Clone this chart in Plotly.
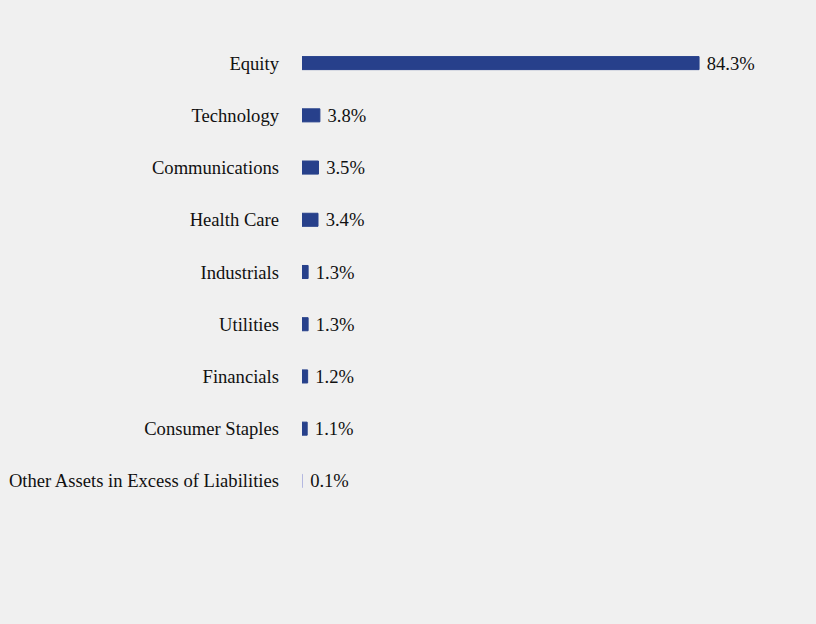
import plotly.graph_objects as go

categories = ["Equity", "Technology", "Communications", "Health Care", "Industrials",
              "Utilities", "Financials", "Consumer Staples", "Other Assets in Excess of Liabilities"]
values = [84.3, 3.8, 3.5, 3.4, 1.3, 1.3, 1.2, 1.1, 0.1]
labels = ["84.3%", "3.8%", "3.5%", "3.4%", "1.3%", "1.3%", "1.2%", "1.1%", "0.1%"]
colors = ["#27408b"] * 8 + ["#b3b8e0"]

FS = 18.6
fig = go.Figure(go.Bar(
    x=values, y=categories, orientation="h",
    marker=dict(color=colors, line=dict(color=colors, width=1)),
    text=[" " + l for l in labels], textposition="outside", cliponaxis=False,
    constraintext="none",
    textfont=dict(family="Liberation Serif", size=FS, color="#111111"),
    width=0.25,
))
fig.update_layout(
    width=816, height=624,
    paper_bgcolor="#f0f0f0", plot_bgcolor="#f0f0f0",
    margin=dict(l=302, r=43, t=37, b=117, autoexpand=False),
    showlegend=False,
    font=dict(family="Liberation Serif", size=FS, color="#111111"),
)
fig.update_xaxes(range=[0, 100], visible=False)
fig.update_yaxes(autorange="reversed", showgrid=False, zeroline=False, showline=False,
                 automargin=False,
                 ticks="", ticklabelstandoff=22, tickfont=dict(family="Liberation Serif", size=FS))
fig.write_html("out.html")
